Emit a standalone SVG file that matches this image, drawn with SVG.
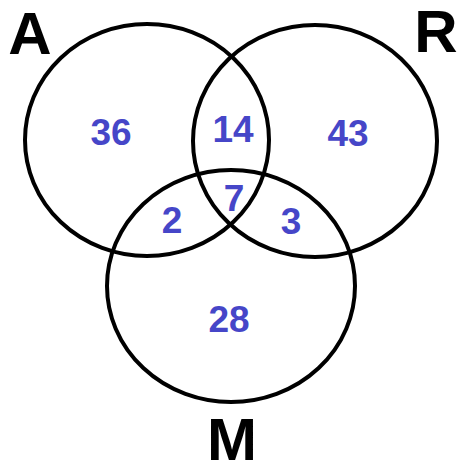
<svg xmlns="http://www.w3.org/2000/svg" width="459" height="465" viewBox="0 0 459 465">
<style>
.c{fill:none;stroke:#000;stroke-width:4}
.lab{font-family:"Liberation Sans",Arial,sans-serif;font-weight:bold;font-size:60px;fill:#000;text-anchor:middle}
.n{font-family:"Liberation Sans",Arial,sans-serif;font-weight:bold;font-size:37px;fill:#4646c8;text-anchor:middle}
</style>
<rect width="459" height="465" fill="#fff"/>
<g id="circle-A"><ellipse class="c" cx="147" cy="140" rx="122" ry="116"/><text class="lab" x="30" y="54">A</text></g>
<g id="circle-R"><ellipse class="c" cx="315" cy="141" rx="122" ry="116"/><text class="lab" x="436" y="52">R</text></g>
<g id="circle-M"><ellipse class="c" cx="231" cy="286" rx="124" ry="116"/><text class="lab" x="232" y="460">M</text></g>
<g id="regions">
<text class="n" x="111" y="145">36</text>
<text class="n" x="233" y="142">14</text>
<text class="n" x="348" y="146">43</text>
<text class="n" x="234" y="211">7</text>
<text class="n" x="172" y="233">2</text>
<text class="n" x="291" y="234">3</text>
<text class="n" x="229" y="332">28</text>
</g>
<g id="connectors"/>
</svg>
